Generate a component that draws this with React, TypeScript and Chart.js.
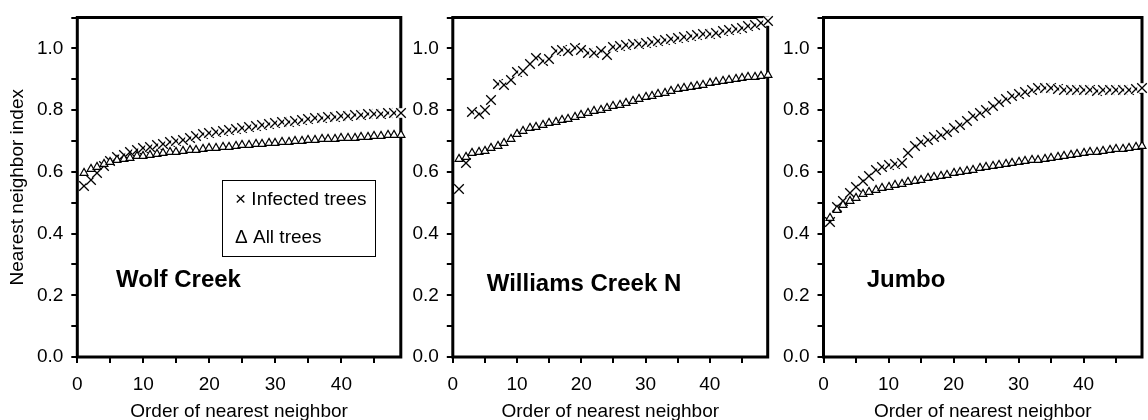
import React, { useEffect, useRef } from 'react';
import { Chart, registerables } from 'chart.js';

Chart.register(...registerables);

// ---------- data ----------
const orders = [
  1, 2, 3, 4, 5, 6, 7, 8, 9, 10, 11, 12, 13, 14, 15, 16, 17, 18, 19, 20, 21, 22, 23, 24, 25,
  26, 27, 28, 29, 30, 31, 32, 33, 34, 35, 36, 37, 38, 39, 40, 41, 42, 43, 44, 45, 46, 47, 48, 49,
];

const wolfInfected = [
  0.555, 0.575, 0.595, 0.62, 0.635, 0.648, 0.656, 0.664, 0.671, 0.677, 0.682, 0.687, 0.691, 0.695,
  0.699, 0.704, 0.709, 0.716, 0.722, 0.727, 0.73, 0.733, 0.736, 0.739, 0.742, 0.745, 0.748, 0.751,
  0.754, 0.757, 0.76, 0.763, 0.766, 0.768, 0.771, 0.773, 0.775, 0.777, 0.779, 0.781, 0.782, 0.784,
  0.785, 0.786, 0.787, 0.788, 0.789, 0.79, 0.791,
];
const wolfAll = [
  0.6, 0.612, 0.62, 0.628, 0.634, 0.64, 0.645, 0.649, 0.653, 0.656, 0.659, 0.662, 0.665, 0.667,
  0.669, 0.671, 0.673, 0.675, 0.677, 0.679, 0.681, 0.683, 0.685, 0.687, 0.689, 0.691, 0.692, 0.694,
  0.696, 0.697, 0.699, 0.7, 0.702, 0.703, 0.705, 0.706, 0.708, 0.709, 0.71, 0.712, 0.713, 0.714,
  0.716, 0.717, 0.718, 0.719, 0.721, 0.722, 0.724,
];

const williamsInfected = [
  0.545, 0.63, 0.795, 0.788, 0.8, 0.833, 0.885, 0.88, 0.897, 0.922, 0.927, 0.949, 0.97, 0.959,
  0.965, 0.99, 0.995, 0.99, 1.0, 0.995, 0.986, 0.986, 0.99, 0.978, 1.006, 1.009, 1.011, 1.013,
  1.015, 1.018, 1.021, 1.024, 1.027, 1.03, 1.033, 1.036, 1.039, 1.042, 1.045, 1.048, 1.051, 1.055,
  1.059, 1.063, 1.067, 1.072, 1.077, 1.083, 1.089,
];
const williamsAll = [
  0.645, 0.652, 0.665, 0.668, 0.672, 0.68, 0.687, 0.695, 0.71, 0.725, 0.737, 0.745, 0.75, 0.755,
  0.76, 0.765, 0.77, 0.775, 0.78, 0.788, 0.795, 0.8, 0.805, 0.81, 0.815, 0.82, 0.826, 0.832, 0.838,
  0.845, 0.85, 0.855, 0.86, 0.865, 0.87, 0.874, 0.878, 0.882, 0.886, 0.89, 0.894, 0.897, 0.9, 0.903,
  0.906, 0.909, 0.912, 0.915, 0.918,
];

const jumboInfected = [
  0.438, 0.485, 0.505, 0.53, 0.552, 0.57, 0.588, 0.605, 0.615, 0.622, 0.625, 0.628, 0.66, 0.685,
  0.695, 0.703, 0.712, 0.72, 0.73, 0.742, 0.752, 0.764, 0.78, 0.79, 0.8, 0.812, 0.825, 0.835, 0.845,
  0.852, 0.86, 0.866, 0.87, 0.872, 0.87, 0.868, 0.866, 0.865, 0.865, 0.866, 0.864, 0.863, 0.864,
  0.866, 0.866, 0.865, 0.866, 0.868, 0.87,
];
const jumboAll = [
  0.452, 0.478, 0.497, 0.51, 0.52, 0.53, 0.538, 0.545, 0.55, 0.555, 0.56, 0.565, 0.57, 0.574, 0.578,
  0.582, 0.586, 0.59, 0.594, 0.598, 0.602, 0.606, 0.61, 0.614, 0.618, 0.621, 0.624, 0.628, 0.631,
  0.634, 0.637, 0.64, 0.643, 0.646, 0.649, 0.652, 0.655, 0.658, 0.66, 0.663, 0.666, 0.668, 0.671,
  0.673, 0.676, 0.678, 0.681, 0.683, 0.686,
];

const siteNames = ['Wolf Creek', 'Williams Creek N', 'Jumbo'];
const seriesNames = ['Infected trees', 'All trees'];
const legendSymbols = ['\u00D7', '\u0394'];
const xLabelEvery = 10;
const xMin = 0;
const xMax = 49;
const yMin = 0;
const yMax = 1.1;
const xTitle = 'Order of nearest neighbor';
const yTitle = 'Nearest neighbor index';

// ---------- styling / layout ----------
const FONT = "'Liberation Sans', Arial, Helvetica, sans-serif";
const PAGE_W = 1148;
const PAGE_H = 420;

type PanelSpec = {
  canvasLeft: number;
  canvasRight: number;
  plotLeft: number;
  plotRight: number;
  infected: number[];
  all: number[];
  name: string;
  nameDx: number;
  nameBaseline: number;
  showYTitle: boolean;
  showLegend: boolean;
};

const panels: PanelSpec[] = [
  {
    canvasLeft: 0, canvasRight: 412, plotLeft: 77.3, plotRight: 400.8,
    infected: wolfInfected, all: wolfAll, name: siteNames[0], nameDx: 38.7, nameBaseline: 287.2,
    showYTitle: true, showLegend: true,
  },
  {
    canvasLeft: 404, canvasRight: 779, plotLeft: 452.8, plotRight: 767.7,
    infected: williamsInfected, all: williamsAll, name: siteNames[1], nameDx: 33.9, nameBaseline: 290.5,
    showYTitle: false, showLegend: false,
  },
  {
    canvasLeft: 771, canvasRight: 1148, plotLeft: 823.5, plotRight: 1146.5,
    infected: jumboInfected, all: jumboAll, name: siteNames[2], nameDx: 43.2, nameBaseline: 286.5,
    showYTitle: false, showLegend: false,
  },
];

function makeCrossMarker(): HTMLCanvasElement {
  const c = document.createElement('canvas');
  c.width = 14;
  c.height = 14;
  const g = c.getContext('2d')!;
  const m = 7;
  const h = 4.8;
  g.fillStyle = '#ffffff';
  g.fillRect(m - h, m - h, 2 * h, 2 * h);
  g.strokeStyle = '#000000';
  g.lineWidth = 1.3;
  g.beginPath();
  g.moveTo(m - h, m - h);
  g.lineTo(m + h, m + h);
  g.moveTo(m + h, m - h);
  g.lineTo(m - h, m + h);
  g.stroke();
  return c;
}

function makeTriangleMarker(): HTMLCanvasElement {
  const c = document.createElement('canvas');
  c.width = 12;
  c.height = 12;
  const g = c.getContext('2d')!;
  const m = 6;
  g.fillStyle = '#ffffff';
  g.strokeStyle = '#000000';
  g.lineWidth = 1.2;
  g.beginPath();
  g.moveTo(m, m - 3.6);
  g.lineTo(m + 3.9, m + 3.3);
  g.lineTo(m - 3.9, m + 3.3);
  g.closePath();
  g.fill();
  g.stroke();
  return c;
}

function Panel({ spec }: { spec: PanelSpec }) {
  const ref = useRef<HTMLCanvasElement | null>(null);
  const width = spec.canvasRight - spec.canvasLeft;

  useEffect(() => {
    const canvas = ref.current;
    if (!canvas) return;
    const cross = makeCrossMarker();
    const tri = makeTriangleMarker();

    const infectedPts = orders.map((x, i) => ({ x, y: spec.infected[i] }));
    const allPts = orders.map((x, i) => ({ x, y: spec.all[i] }));

    const decor = {
      id: 'decor',
      beforeDatasetsDraw(chart: any) {
        const { ctx, chartArea: a } = chart;
        ctx.save();
        ctx.lineWidth = 3;
        ctx.strokeStyle = '#000';
        ctx.strokeRect(a.left, a.top, a.right - a.left, a.bottom - a.top);
        ctx.restore();
        ctx.imageSmoothingEnabled = false;
      },
      afterDatasetsDraw(chart: any) {
        chart.ctx.imageSmoothingEnabled = true;
      },
      afterDraw(chart: any) {
        const { ctx, chartArea: a } = chart;
        ctx.save();
        ctx.fillStyle = '#000';
        ctx.font = `bold 24px ${FONT}`;
        ctx.textBaseline = 'alphabetic';
        ctx.textAlign = 'left';
        ctx.fillText(spec.name, a.left + spec.nameDx, spec.nameBaseline);
        if (spec.showLegend) {
          const bx = a.left + 144.4;
          const by = a.top + 162;
          ctx.lineWidth = 1;
          ctx.strokeStyle = '#000';
          ctx.strokeRect(Math.round(bx) + 0.5, Math.round(by) + 0.5, 153, 76);
          ctx.font = `19px ${FONT}`;
          ctx.textBaseline = 'middle';
          ctx.fillText(`${legendSymbols[0]} ${seriesNames[0]}`, bx + 13.3, by + 20.6);
          ctx.fillText(`${legendSymbols[1]} ${seriesNames[1]}`, bx + 13.3, by + 58.4);
        }
        ctx.restore();
      },
    };

    const chart = new Chart(canvas, {
      type: 'scatter',
      data: {
        datasets: [
          {
            label: seriesNames[0],
            data: infectedPts,
            pointStyle: cross as any,
            pointRadius: 5,
            showLine: false,
            order: 2,
            clip: false as any,
          },
          {
            label: seriesNames[1],
            data: allPts,
            pointStyle: tri as any,
            pointRadius: 5,
            showLine: false,
            order: 1,
            clip: false as any,
          },
        ],
      },
      options: {
        animation: false,
        responsive: false,
        events: [],
        layout: {
          padding: { top: 10.3, left: 0, bottom: 0, right: spec.canvasRight - spec.plotRight },
        },
        plugins: {
          legend: { display: false },
          tooltip: { enabled: false },
        },
        scales: {
          x: {
            type: 'linear',
            min: xMin,
            max: xMax,
            border: { display: false },
            grid: {
              drawOnChartArea: false,
              drawTicks: true,
              tickLength: 6,
              lineWidth: 2,
              color: '#000',
            },
            ticks: {
              stepSize: 5,
              includeBounds: false,
              autoSkip: false,
              maxRotation: 0,
              padding: 12,
              color: '#000',
              font: { family: FONT, size: 19, lineHeight: 1 },
              callback: (v: any) => (Number(v) % xLabelEvery === 0 ? String(v) : ''),
            },
            title: {
              display: true,
              text: xTitle,
              color: '#000',
              font: { family: FONT, size: 19, lineHeight: 0.84 },
              padding: { top: 0, bottom: 0 },
            },
            afterFit: (scale: any) => {
              scale.height = 63;
            },
          },
          y: {
            type: 'linear',
            min: yMin,
            max: yMax,
            border: { display: false },
            grid: {
              drawOnChartArea: false,
              drawTicks: true,
              tickLength: 6,
              lineWidth: 2,
              color: '#000',
            },
            ticks: {
              stepSize: 0.1,
              autoSkip: false,
              padding: 8,
              color: '#000',
              font: { family: FONT, size: 19, lineHeight: 1 },
              callback: (v: any) => {
                const k = Math.round(Number(v) * 10);
                return k % 2 === 0 && k <= 10 ? (k / 10).toFixed(1) : '';
              },
            },
            title: {
              display: spec.showYTitle,
              text: yTitle,
              color: '#000',
              font: { family: FONT, size: 19, lineHeight: 1 },
              padding: { top: 8, bottom: 0 },
            },
            afterFit: (scale: any) => {
              scale.width = spec.plotLeft - spec.canvasLeft;
            },
          },
        },
      },
      plugins: [decor],
    } as any);

    return () => chart.destroy();
  }, [spec]);

  return (
    <canvas
      ref={ref}
      width={width}
      height={PAGE_H}
      style={{ position: 'absolute', left: spec.canvasLeft, top: 0, width, height: PAGE_H }}
    />
  );
}

export default function App() {
  return (
    <div
      style={{
        position: 'absolute',
        left: 0,
        top: 0,
        width: PAGE_W,
        height: PAGE_H,
        background: '#fff',
        overflow: 'hidden',
      }}
    >
      {panels.map((p) => (
        <Panel key={p.name} spec={p} />
      ))}
    </div>
  );
}
